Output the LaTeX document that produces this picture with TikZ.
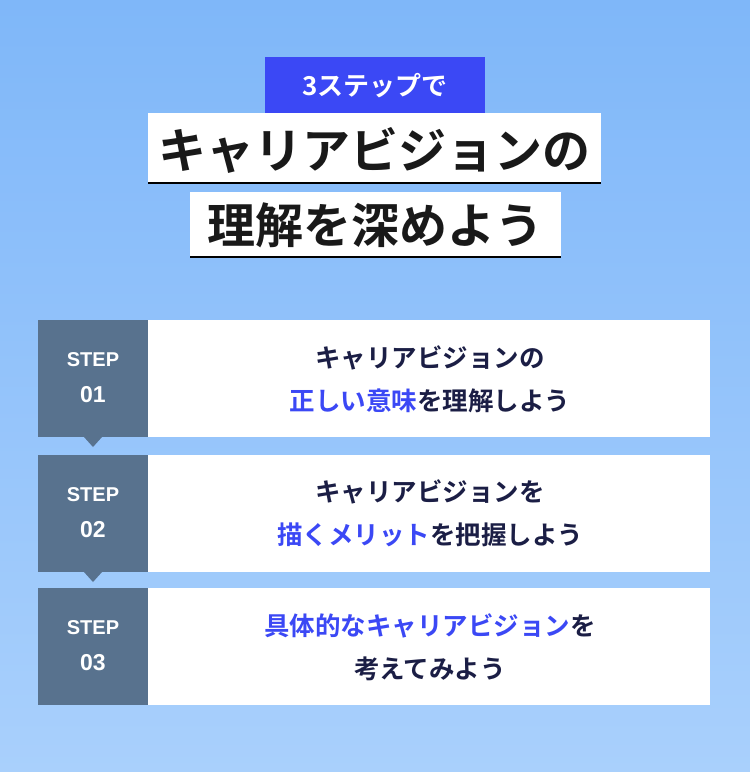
\documentclass[tikz,border=0pt]{standalone}
\usepackage{fontspec}
\setmainfont{Noto Sans CJK JP Bold}
\newfontfamily\stepfont{Liberation Sans}
\definecolor{bgtop}{HTML}{7FB7F9}
\definecolor{bgbot}{HTML}{A9D0FC}
\definecolor{accent}{HTML}{3B48F5}
\definecolor{navy}{HTML}{1B1E45}
\definecolor{stepc}{HTML}{58728E}
\tikzset{
  whitebox/.style={fill=white, draw=none},
  stepbox/.style={fill=stepc, draw=none},
  txt/.style={text=navy, font=\fontsize{25.5}{43}\selectfont, align=center},
  steplbl/.style={text=white, font=\stepfont\bfseries\fontsize{20}{36}\selectfont, align=center},
  title/.style={text=black!90, font=\fontsize{48}{52}\selectfont}
}
\begin{document}
\begin{tikzpicture}[x=1pt,y=-1pt]
\useasboundingbox (0,0) rectangle (750,772);
\shade[top color=bgtop, bottom color=bgbot] (0,0) rectangle (750,772);
% title
\fill[accent] (265,57) rectangle (485,113);
\node[text=white, font=\fontsize{26}{30}\selectfont] (t0) at (375,86) {3ステップで};
\fill[white] (148,113) rectangle (601,183);
\draw[black, line width=2.5pt] (148,183) -- (601,183);
\node[title] (t1) at (374.5,150) {キャリアビジョンの};
\fill[white] (190,192) rectangle (561,257);
\draw[black, line width=2.5pt] (190,257) -- (561,257);
\node[title] (t2) at (375.5,225) {理解を深めよう};
% steps
\foreach \y/\n in {320/01,455/02,588/03}{
  \fill[stepc] (38,\y) rectangle (148,\y+117);
  \fill[white] (148,\y) rectangle (710,\y+117);
  \node[steplbl] (s\n) at (93,\y+58) {STEP\\{\fontsize{23}{30}\selectfont\n}};
}
\fill[stepc] (84,437) -- (102,437) -- (93,447) -- cycle;
\fill[stepc] (84,572) -- (102,572) -- (93,582) -- cycle;
\node[txt] (m1) at (430,379) {キャリアビジョンの\\\textcolor{accent}{正しい意味}を理解しよう};
\node[txt] (m2) at (430,513) {キャリアビジョンを\\\textcolor{accent}{描くメリット}を把握しよう};
\node[txt] (m3) at (430,647) {\textcolor{accent}{具体的なキャリアビジョン}を\\考えてみよう};
\end{tikzpicture}
\end{document}
